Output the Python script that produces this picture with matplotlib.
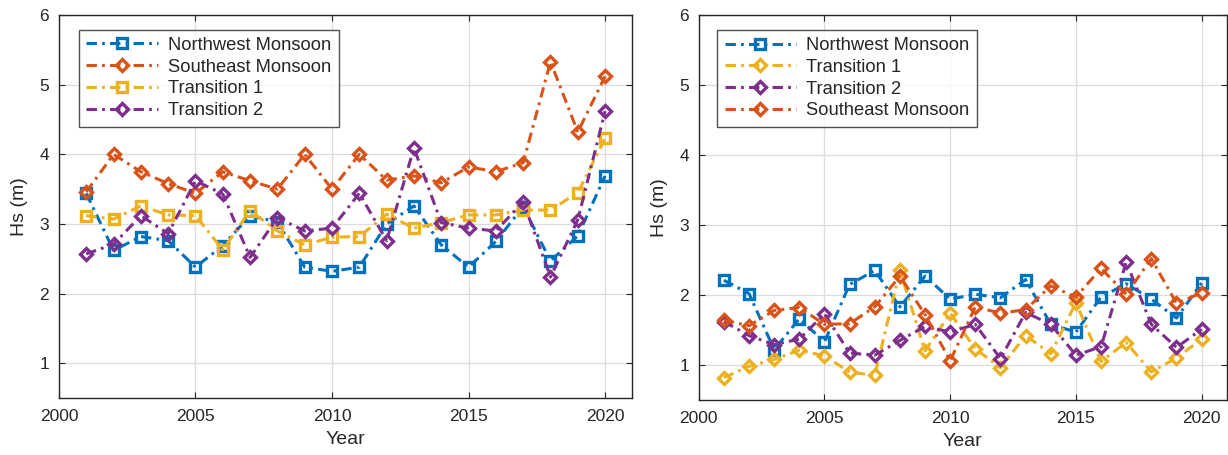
import matplotlib
matplotlib.use("Agg")
import matplotlib.pyplot as plt

plt.rcParams['font.family'] = ['Liberation Sans', 'DejaVu Sans']

years = list(range(2001, 2021))

# Left panel
left_nw = [3.44, 2.62, 2.82, 2.76, 2.38, 2.69, 3.12, 3.03, 2.38, 2.32,
           2.38, 3.00, 3.26, 2.70, 2.38, 2.75, 3.25, 2.47, 2.83, 3.69]
left_se = [3.46, 4.00, 3.75, 3.58, 3.44, 3.75, 3.62, 3.50, 4.00, 3.50,
           4.00, 3.63, 3.69, 3.59, 3.82, 3.75, 3.88, 5.33, 4.32, 5.12]
left_t1 = [3.12, 3.07, 3.26, 3.13, 3.12, 2.63, 3.19, 2.90, 2.70, 2.81,
           2.82, 3.14, 2.94, 3.02, 3.13, 3.13, 3.20, 3.20, 3.45, 4.23]
left_t2 = [2.57, 2.71, 3.12, 2.86, 3.62, 3.43, 2.52, 3.09, 2.90, 2.94,
           3.44, 2.76, 4.09, 3.02, 2.94, 2.90, 3.32, 2.24, 3.06, 4.62]

# Right panel
right_nw = [2.21, 2.02, 1.22, 1.66, 1.33, 2.15, 2.35, 1.83, 2.27, 1.94,
            2.01, 1.96, 2.22, 1.58, 1.47, 1.97, 2.16, 1.94, 1.67, 2.17]
right_t1 = [0.82, 0.98, 1.08, 1.21, 1.13, 0.90, 0.85, 2.35, 1.20, 1.74,
            1.23, 0.96, 1.42, 1.16, 1.89, 1.05, 1.32, 0.90, 1.10, 1.37]
right_t2 = [1.62, 1.42, 1.29, 1.37, 1.73, 1.17, 1.14, 1.35, 1.55, 1.47,
            1.58, 1.09, 1.75, 1.58, 1.14, 1.26, 2.47, 1.58, 1.25, 1.51]
right_se = [1.64, 1.56, 1.78, 1.82, 1.58, 1.59, 1.83, 2.27, 1.72, 1.06,
            1.83, 1.74, 1.79, 2.13, 1.97, 2.38, 2.01, 2.52, 1.88, 2.03]

xticks = [2000, 2005, 2010, 2015, 2020]
yticks = [1, 2, 3, 4, 5, 6]

C_BLUE = '#0072BD'
C_ORANGE = '#D95319'
C_YELLOW = '#EDB120'
C_PURPLE = '#7E2F8E'

fig = plt.figure(figsize=(12.28, 4.55), dpi=100)
ax1 = fig.add_axes([0.048, 0.125, 0.467, 0.842])
ax2 = fig.add_axes([0.569, 0.121, 0.430, 0.846])

def style(ax):
    ax.set_xlim(2000, 2021)
    ax.set_ylim(0.5, 6)
    ax.set_xticks(xticks)
    ax.set_yticks(yticks)
    ax.grid(True, color='#dcdcdc', linewidth=0.9)
    ax.set_axisbelow(True)
    ax.tick_params(direction='in', top=True, right=True, labelsize=12.5,
                   colors='#262626', length=4, width=0.8)
    ax.tick_params(axis='x', pad=8)
    ax.tick_params(axis='y', pad=7)
    for s in ax.spines.values():
        s.set_color('#262626')
        s.set_linewidth(1.0)
    ax.set_xlabel('Year', fontsize=14, color='#262626', labelpad=5)
    ax.set_ylabel('Hs (m)', fontsize=14, color='#262626', labelpad=8)

dashdot = (0, (3.4, 1.7, 0.9, 1.7))
kw = dict(linestyle=dashdot, linewidth=2.2, markersize=6.5, markeredgewidth=2.4,
          markerfacecolor='none')

ax1.plot(years, left_nw, marker='s', color=C_BLUE, label='Northwest Monsoon', **kw)
ax1.plot(years, left_se, marker='D', color=C_ORANGE, label='Southeast Monsoon', **kw)
ax1.plot(years, left_t1, marker='s', color=C_YELLOW, label='Transition 1', **kw)
ax1.plot(years, left_t2, marker='D', color=C_PURPLE, label='Transition 2', **kw)
style(ax1)

ax2.plot(years, right_nw, marker='s', color=C_BLUE, label='Northwest Monsoon', **kw)
ax2.plot(years, right_t1, marker='D', color=C_YELLOW, label='Transition 1', **kw)
ax2.plot(years, right_t2, marker='D', color=C_PURPLE, label='Transition 2', **kw)
ax2.plot(years, right_se, marker='D', color=C_ORANGE, label='Southeast Monsoon', **kw)
style(ax2)

for ax in (ax1, ax2):
    leg = ax.legend(loc='upper left', bbox_to_anchor=(0.035, 0.962), fontsize=13.2,
                    frameon=True, fancybox=False, edgecolor='#262626',
                    handlelength=3.9, borderpad=0.4, labelspacing=0.26,
                    handletextpad=0.55, borderaxespad=0)
    leg.get_frame().set_linewidth(1.0)
    for t in leg.get_texts():
        t.set_color('#262626')

fig.savefig('out.png', dpi=100)
